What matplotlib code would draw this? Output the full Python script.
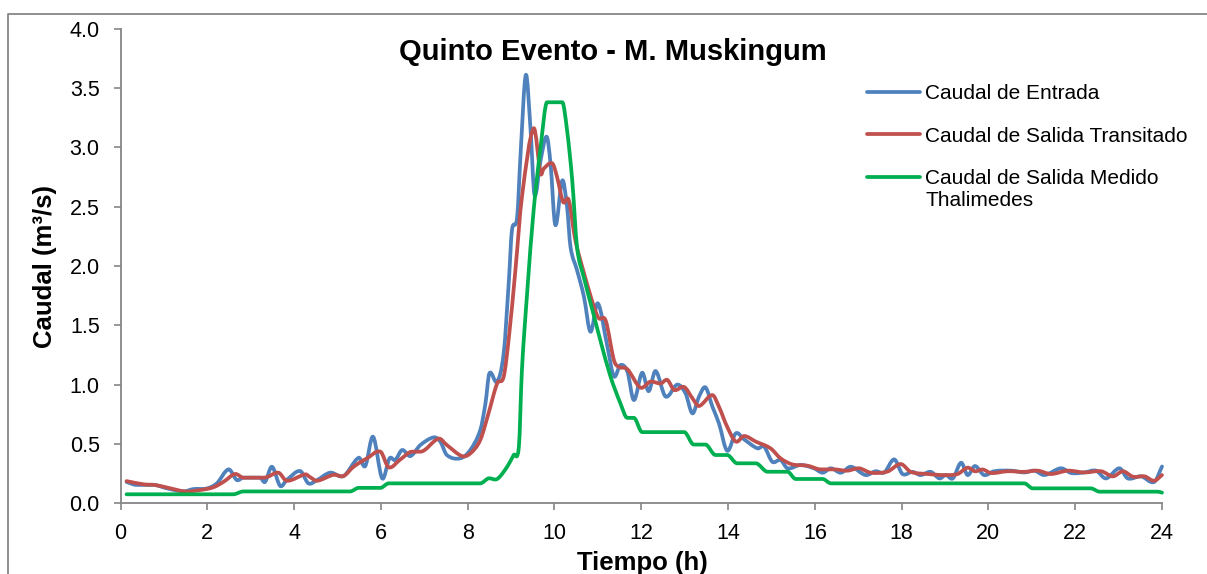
import matplotlib
matplotlib.use("Agg")
import matplotlib.pyplot as plt
from matplotlib.lines import Line2D
from matplotlib.path import Path
from matplotlib.patches import PathPatch

plt.rcParams['font.family'] = ['Liberation Sans', 'DejaVu Sans']

# Caudal de entrada (hidrograma observado aguas arriba)
t_entrada = [0.14, 0.37, 0.76, 1.07, 1.45, 1.68, 1.99, 2.22, 2.49, 2.68, 2.83, 3.22, 3.33, 3.49,
             3.68, 3.83, 4.14, 4.33, 4.53, 4.83, 5.14, 5.49, 5.64, 5.82, 6.03, 6.20, 6.33, 6.49,
             6.68, 6.91, 7.22, 7.37, 7.52, 7.83, 8.06, 8.29, 8.41, 8.50, 8.68, 8.83, 8.95, 9.02,
             9.14, 9.22, 9.34, 9.45, 9.54, 9.68, 9.82, 9.91, 10.02, 10.18, 10.29, 10.37, 10.52,
             10.68, 10.83, 11.00, 11.22, 11.37, 11.52, 11.68, 11.83, 12.02, 12.17, 12.33, 12.56,
             12.83, 13.02, 13.18, 13.33, 13.48, 13.64, 13.79, 13.98, 14.18, 14.37, 14.68, 14.83,
             15.02, 15.21, 15.37, 15.67, 15.98, 16.18, 16.37, 16.60, 16.83, 17.17, 17.40, 17.60,
             17.83, 18.02, 18.25, 18.44, 18.67, 18.87, 19.02, 19.18, 19.37, 19.52, 19.69, 19.90,
             20.13, 20.52, 20.83, 21.06, 21.29, 21.67, 21.91, 22.21, 22.48, 22.71, 23.02, 23.21,
             23.52, 23.82, 24.00]
q_entrada = [0.18, 0.155, 0.155, 0.126, 0.10, 0.12, 0.125, 0.168, 0.286, 0.196, 0.216, 0.216, 0.18, 0.308,
             0.146, 0.196, 0.272, 0.168, 0.196, 0.258, 0.23, 0.384, 0.314, 0.561, 0.21, 0.379, 0.365, 0.449,
             0.398, 0.491, 0.556, 0.52, 0.407, 0.379, 0.449, 0.617, 0.842, 1.095, 1.025, 1.264, 1.88, 2.30,
             2.41, 2.95, 3.61, 3.145, 2.60, 2.89, 3.09, 2.86, 2.345, 2.72, 2.50, 2.16, 1.965,
             1.74, 1.446, 1.685, 1.32, 1.07, 1.165, 1.11, 0.87, 1.10, 0.945, 1.115, 0.90,
             1.0, 0.927, 0.758, 0.898, 0.977, 0.814, 0.674, 0.443, 0.59, 0.539, 0.463, 0.478,
             0.35, 0.365, 0.295, 0.323, 0.295, 0.258, 0.295, 0.258, 0.308, 0.238, 0.27, 0.26,
             0.37, 0.247, 0.265, 0.238, 0.265, 0.21, 0.238, 0.21, 0.342, 0.238, 0.314, 0.238,
             0.27, 0.275, 0.26, 0.275, 0.238, 0.295, 0.255, 0.26, 0.275, 0.21, 0.295, 0.21,
             0.227, 0.18, 0.31]

# Caudal de salida transitado por Muskingum
t_transitado = [0.14, 0.53, 0.80, 1.15, 1.49, 1.84, 2.14, 2.37, 2.64, 2.83, 3.22, 3.37, 3.64, 3.83,
                4.26, 4.37, 4.53, 4.91, 5.14, 5.37, 5.68, 5.99, 6.18, 6.45, 6.72, 6.91, 7.33, 7.52,
                7.87, 8.06, 8.29, 8.48, 8.68, 8.83, 8.95, 9.10, 9.25, 9.52, 9.68, 9.75, 9.95, 10.06,
                10.20, 10.33, 10.48, 10.68, 10.91, 11.02, 11.18, 11.37, 11.48, 11.68, 11.98, 12.21,
                12.45, 12.60, 12.76, 12.99, 13.18, 13.33, 13.64, 13.79, 13.98, 14.18, 14.37, 14.64,
                14.98, 15.21, 15.48, 15.83, 16.14, 16.44, 16.75, 17.02, 17.29, 17.67, 17.98, 18.21,
                18.60, 18.98, 19.29, 19.52, 19.69, 19.87, 20.06, 20.44, 20.83, 21.14, 21.44, 21.83,
                22.21, 22.60, 22.87, 23.10, 23.33, 23.60, 23.82, 24.00]
q_transitado = [0.187, 0.16, 0.154, 0.126, 0.10, 0.112, 0.135, 0.18, 0.247, 0.216, 0.216, 0.22, 0.258, 0.19,
                0.244, 0.22, 0.19, 0.24, 0.23, 0.308, 0.379, 0.435, 0.303, 0.37, 0.435, 0.435, 0.545, 0.491,
                0.398, 0.42, 0.533, 0.758, 1.01, 1.067, 1.40, 1.965, 2.58, 3.16, 2.78, 2.82, 2.865, 2.75,
                2.54, 2.555, 2.22, 1.94, 1.656, 1.56, 1.54, 1.207, 1.15, 1.13, 0.975, 1.025,
                1.01, 1.04, 0.955, 0.98, 0.885, 0.82, 0.912, 0.814, 0.645, 0.52, 0.567, 0.52,
                0.463, 0.379, 0.328, 0.317, 0.286, 0.286, 0.275, 0.295, 0.258, 0.267, 0.331, 0.265,
                0.247, 0.238, 0.247, 0.30, 0.27, 0.285, 0.255, 0.27, 0.265, 0.275, 0.247, 0.275,
                0.26, 0.27, 0.227, 0.27, 0.224, 0.227, 0.19, 0.238]

# Caudal de salida medido (Thalimedes)
t_medido = [0.14, 2.60, 2.83, 5.29, 5.49, 5.99, 6.18, 8.29, 8.48, 8.68, 8.91, 9.06, 9.18, 9.25,
            9.37, 9.52, 9.68, 9.83, 9.98, 10.18, 10.29, 10.41, 10.52, 10.68, 10.91, 11.06, 11.29,
            11.52, 11.68, 11.83, 12.02, 12.99, 13.21, 13.48, 13.71, 13.98, 14.21, 14.64, 14.91,
            15.37, 15.56, 16.18, 16.37, 20.83, 21.02, 22.36, 22.56, 23.90, 24.00]
q_medido = [0.076, 0.076, 0.10, 0.10, 0.13, 0.13, 0.168, 0.168, 0.21, 0.205, 0.308, 0.407, 0.477, 1.12,
            1.77, 2.47, 3.00, 3.38, 3.38, 3.38, 3.145, 2.72, 2.16, 1.90, 1.58, 1.37, 1.07,
            0.842, 0.72, 0.72, 0.60, 0.60, 0.495, 0.495, 0.407, 0.407, 0.337, 0.337, 0.266,
            0.266, 0.205, 0.205, 0.168, 0.168, 0.126, 0.126, 0.098, 0.098, 0.09]

series_labels = ['Caudal de Entrada', 'Caudal de Salida Transitado',
                 'Caudal de Salida Medido\nThalimedes']
series_colors = ['#4F81BD', '#C0504D', '#00B050']
x_ticks = list(range(0, 25, 2))
y_ticks = [0.0, 0.5, 1.0, 1.5, 2.0, 2.5, 3.0, 3.5, 4.0]

W, H = 1207, 574
fig = plt.figure(figsize=(W / 100, H / 100), dpi=100)


def fx(px):
    return px / W


def fy(py):
    return 1 - py / H


def smooth_path(t, q):
    """Curva suavizada (Hermite cúbica en forma Bezier) que pasa por cada punto medido.
    Los tramos horizontales se mantienen planos."""
    n = len(t)
    slopes = []
    for i in range(n):
        a = max(i - 1, 0)
        b = min(i + 1, n - 1)
        flat = (i > 0 and q[i] == q[i - 1]) or (i < n - 1 and q[i] == q[i + 1])
        slopes.append(0.0 if flat else (q[b] - q[a]) / (t[b] - t[a]))
    verts = [(t[0], q[0])]
    codes = [Path.MOVETO]
    for i in range(n - 1):
        h = (t[i + 1] - t[i]) / 3
        verts += [(t[i] + h, q[i] + slopes[i] * h),
                  (t[i + 1] - h, q[i + 1] - slopes[i + 1] * h),
                  (t[i + 1], q[i + 1])]
        codes += [Path.CURVE4] * 3
    return Path(verts, codes)


ax = fig.add_axes([fx(120.5), fy(503.3), fx(1162) - fx(120.5), fy(28.7) - fy(503.3)])

lw = 2.7
series = [(t_entrada, q_entrada), (t_transitado, q_transitado), (t_medido, q_medido)]
for (t, q), c in zip(series, series_colors):
    ax.add_patch(PathPatch(smooth_path(t, q), fill=False, edgecolor=c, lw=lw,
                           joinstyle='round', capstyle='round', clip_on=False))

ax.set_xlim(0, 24)
ax.set_ylim(0, 4)
ax.set_xticks(x_ticks)
ax.set_xticklabels([str(v) for v in x_ticks])
ax.set_yticks(y_ticks)
ax.set_yticklabels([f'{v:.1f}' for v in y_ticks])

grey = '#868686'
for side in ['top', 'right']:
    ax.spines[side].set_visible(False)
for side in ['left', 'bottom']:
    ax.spines[side].set_color(grey)
    ax.spines[side].set_linewidth(1.3)
ax.tick_params(axis='both', direction='out', length=5, width=1.2, color=grey,
               labelsize=15.5, labelcolor='black')
ax.tick_params(axis='y', pad=10)
ax.tick_params(axis='x', pad=9)

# Títulos
fig.text(fx(613), fy(59.5), 'Quinto Evento - M. Muskingum', ha='center', va='baseline',
         fontsize=21, fontweight='bold')
fig.text(fx(642), fy(570), 'Tiempo (h)', ha='center', va='baseline',
         fontsize=18.5, fontweight='bold')
fig.text(fx(45), fy(266), 'Caudal (m³/s)', ha='center', va='center', rotation=90,
         fontsize=18.5, fontweight='bold')

# Leyenda (la muestra de línea se alinea con la primera línea del texto)
handle_y = [91.7, 134.0, 176.7]
text_top = [84.0, 126.5, 169.3]
for lab, c, hy, tt in zip(series_labels, series_colors, handle_y, text_top):
    fig.add_artist(Line2D([fx(867), fx(920)], [fy(hy), fy(hy)], color=c, lw=lw,
                          solid_capstyle='round', transform=fig.transFigure))
    fig.text(fx(925), fy(tt), lab, ha='left', va='top', fontsize=15, linespacing=1.17)

# Marco exterior del gráfico
fig.add_artist(Line2D([fx(8), fx(8), fx(W + 10)], [fy(H + 10), fy(14), fy(14)],
                      color=grey, lw=1.3, transform=fig.transFigure))

fig.savefig('out.png', dpi=100)
